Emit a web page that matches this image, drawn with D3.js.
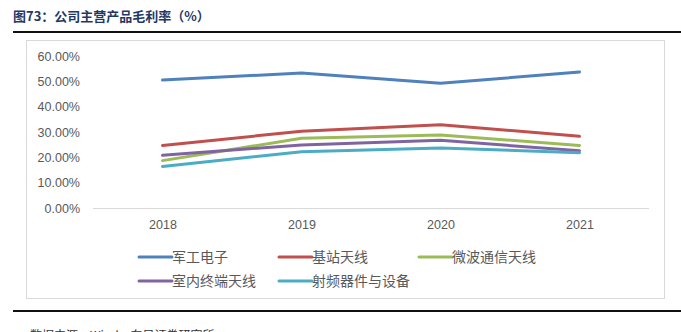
<!DOCTYPE html>
<html>
<head>
<meta charset="utf-8">
<script src="https://cdn.jsdelivr.net/npm/d3@7"></script>
<style>
  body { margin: 0; background: #fff; }
  svg { display: block; }
</style>
</head>
<body>
<div id="chart"></div>
<script>
// data
var years = ["2018", "2019", "2020", "2021"];
var seriesNames = ["军工电子", "基站天线", "微波通信天线", "室内终端天线", "射频器件与设备"];
var junGong = [50.5, 53.3, 49.2, 53.7];
var jiZhan = [24.7, 30.3, 32.9, 28.3];
var weiBo = [18.7, 27.5, 28.8, 24.7];
var shiNei = [20.8, 24.9, 26.7, 22.6];
var shePin = [16.4, 22.2, 23.7, 21.8];
var yTicks = [0, 10, 20, 30, 40, 50, 60];

var seriesValues = [junGong, jiZhan, weiBo, shiNei, shePin];
var colors = ["#4F81BD", "#C0504D", "#9BBB59", "#8064A2", "#4BACC6"];

var W = 681, H = 332;

var svg = d3.select("#chart")
  .append("svg")
  .attr("width", W)
  .attr("height", H);

// title and rules
svg.append("text")
  .attr("x", 13)
  .attr("y", 21)
  .text("图73：公司主营产品毛利率（%）")
  .style("font-family", "'Noto Sans CJK SC', sans-serif")
  .style("font-size", "13px")
  .style("font-weight", "bold")
  .style("fill", "#1F3864");

svg.append("rect")
  .attr("x", 13).attr("y", 31)
  .attr("width", W - 13).attr("height", 2)
  .attr("fill", "#111");

svg.append("rect")
  .attr("x", 13).attr("y", 310)
  .attr("width", W - 13).attr("height", 2)
  .attr("fill", "#111");

// chart frame
svg.append("rect")
  .attr("x", 26.5).attr("y", 40.5)
  .attr("width", 638).attr("height", 258)
  .attr("fill", "none")
  .attr("stroke", "#D9D9D9");

// scales
var x = d3.scalePoint()
  .domain(years)
  .range([93, 649])
  .padding(0.5);

var y = d3.scaleLinear()
  .domain([0, 60])
  .range([208, 56]);

// y axis labels
svg.append("g")
  .attr("transform", "translate(80,0)")
  .call(d3.axisLeft(y).tickValues(yTicks).tickSize(0).tickPadding(0)
    .tickFormat(function(d) { return d.toFixed(2) + "%"; }))
  .call(function(g) { g.select(".domain").remove(); })
  .selectAll("text")
    .style("font-family", "'Liberation Sans', Arial, sans-serif")
    .style("font-size", "12.5px")
    .style("fill", "#595959");

// baseline
svg.append("line")
  .attr("x1", 93).attr("x2", 649)
  .attr("y1", y(0) + 0.5).attr("y2", y(0) + 0.5)
  .attr("stroke", "#D9D9D9");

// x axis labels
svg.append("g")
  .attr("transform", "translate(0," + (y(0) + 12) + ")")
  .call(d3.axisBottom(x).tickSize(0).tickPadding(0))
  .call(function(g) { g.select(".domain").remove(); })
  .selectAll("text")
    .style("font-family", "'Liberation Sans', Arial, sans-serif")
    .style("font-size", "12.5px")
    .style("fill", "#595959");

// lines
var line = d3.line()
  .x(function(d, i) { return x(years[i]); })
  .y(function(d) { return y(d); });

svg.append("g")
  .selectAll("path")
  .data(seriesValues)
  .enter()
  .append("path")
    .attr("d", function(d) { return line(d); })
    .attr("fill", "none")
    .attr("stroke", function(d, i) { return colors[i]; })
    .attr("stroke-width", 3)
    .attr("stroke-linejoin", "round")
    .attr("stroke-linecap", "round");

// legend
var legendPos = [[139, 257], [279, 257], [419, 257], [139, 281], [279, 281]];
var legend = svg.append("g")
  .selectAll("g")
  .data(seriesNames)
  .enter()
  .append("g")
    .attr("transform", function(d, i) { return "translate(" + legendPos[i][0] + "," + legendPos[i][1] + ")"; });

legend.append("line")
  .attr("x1", 0).attr("x2", 33)
  .attr("y1", 0).attr("y2", 0)
  .attr("stroke", function(d, i) { return colors[i]; })
  .attr("stroke-width", 3)
  .attr("stroke-linecap", "round");

legend.append("text")
  .attr("x", 33)
  .attr("y", 0)
  .attr("dy", "0.36em")
  .text(function(d) { return d; })
  .style("font-family", "'Noto Sans CJK SC', sans-serif")
  .style("font-size", "14px")
  .style("fill", "#595959");

// source note, mostly below the bottom edge
svg.append("text")
  .attr("x", 30)
  .attr("y", 340)
  .text("数据来源：Wind，东吴证券研究所")
  .style("font-family", "'Noto Sans CJK SC', sans-serif")
  .style("font-size", "12px")
  .style("fill", "#333");
</script>
</body>
</html>
